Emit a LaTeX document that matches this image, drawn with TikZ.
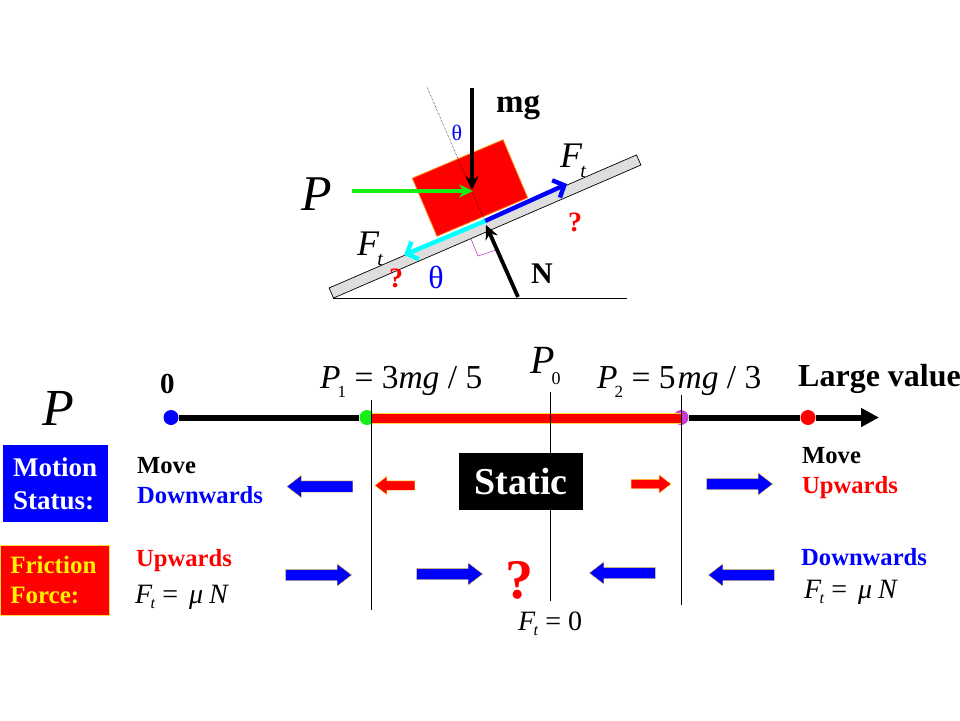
\documentclass[tikz,border=0pt]{standalone}
\usepackage{fontspec}
\setmainfont{Liberation Serif}
\usetikzlibrary{arrows.meta, shapes.arrows}

\definecolor{edgeyellow}{RGB}{255,220,60}
\definecolor{slopegray}{RGB}{222,222,222}
\definecolor{anglepink}{RGB}{200,60,210}
\definecolor{purecyan}{RGB}{0,255,255}
\definecolor{puregreen}{RGB}{20,240,20}
\definecolor{pureblue}{RGB}{0,0,255}
\definecolor{purered}{RGB}{255,0,0}
\newcommand{\fs}[1]{\fontsize{#1}{#1}\selectfont}
% subscript: size, kern, drop, text
\newcommand{\low}[4]{\kern#2pt\raisebox{-#3pt}{\fs{#1}#4}}
\newcommand{\Ftbig}{\textit{F}\low{20}{-2}{10}{\textit{t}}}
\newcommand{\Ftsmall}{\textit{F}\low{16}{-2}{5}{\textit{t}}}

\tikzset{
  txt/.style={inner sep=0pt, anchor=base west},
  mid/.style={inner sep=0pt, anchor=base},
  dotnode/.style={circle, inner sep=0pt, minimum size=15pt},
  force/.style={-{Stealth[length=14pt,width=13pt]}, line width=3.8pt},
  slide/.style={-{Straight Barb[length=9pt,width=19pt]}, line width=4.4pt},
  fblock/.style={single arrow, inner sep=0pt, text width=0pt, text height=11pt, text depth=0pt, minimum height=66pt,
    single arrow head extend=5.5pt, single arrow tip angle=75, fill=pureblue, draw=edgeyellow, line width=.4pt},
  sblock/.style={fblock, fill=purered, text height=9pt, minimum height=40pt, single arrow head extend=4.5pt},
  toleft/.style={shape border rotate=180},
  labelbox/.style={inner sep=0pt, align=left, text width=#1},
  guide/.style={line width=.8pt}
}

\begin{document}
\begin{tikzpicture}[x=1pt,y=-1pt]
  \useasboundingbox (0,0) rectangle (960,720);

  % block on the slope
  \draw (333,298) -- (627,298);
  \node[draw=black, fill=slopegray, line width=.7pt, rotate=23.4, minimum width=335pt, minimum height=11pt, inner sep=0pt] (slope) at (485,226.5) {};
  \node[draw=orange, fill=purered, line width=.8pt, rotate=23, minimum width=98.5pt, minimum height=63pt, inner sep=0pt] (block) at (470,188) {};

  \coordinate (normaltop) at (427,87);
  \coordinate (contact) at (485,221);
  \draw[densely dotted, line width=.5pt] (normaltop) -- (contact);
  \draw[anglepink, line width=.6pt] (471,239) -- (478,256) -- (496,250);

  \coordinate (mgstart) at (472,88);
  \coordinate (center) at (473,191);
  \coordinate (pstart) at (352,191);
  \coordinate (nstart) at (518,297);
  \coordinate (nend) at (486,225);
  \coordinate (upend) at (567,184);
  \coordinate (downend) at (404,255);

  \draw[force] (mgstart) -- (472,190);
  \draw[force, puregreen] (pstart) -- (center);
  \draw[force] (nstart) -- (nend);
  \draw[slide, pureblue] (contact) -- (upend);
  \draw[slide, purecyan] (contact) -- (downend);

  \node[txt] (mglabel) at (496,112) {\fs{33}\textbf{mg}};
  \node[txt] (nlabel) at (531,283) {\fs{30}\textbf{N}};
  \node[txt] (ptop) at (301,210) {\fs{50}\textit{P}};
  \node[txt] (ftup) at (560,167) {\fs{36}\Ftbig};
  \node[txt] (ftdown) at (357,255) {\fs{36}\Ftbig};
  \node[mid, pureblue] (thetasmall) at (457,140) {\fs{22}θ};
  \node[mid, pureblue] (thetabig) at (436,288) {\fs{32}θ};
  \node[mid, purered] (quup) at (575,231) {\fs{28}\textbf{?}};
  \node[mid, purered] (qudown) at (396,287) {\fs{28}\textbf{?}};

  % number line for P
  \node[txt] (pleft) at (42,425) {\fs{52}\textit{P}};
  \node[dotnode, fill=pureblue] (dotzero) at (171,417.5) {};
  \node[dotnode, fill=puregreen] (dotone) at (367,417.5) {};
  \node[dotnode, fill=anglepink] (dottwo) at (681,417.5) {};
  \node[dotnode, fill=purered] (dotlarge) at (808,417.5) {};
  \coordinate (axisend) at (879,417.5);
  \draw[line width=6pt] (dotzero) -- (dotone);
  \draw[line width=6pt] (dottwo) -- (dotlarge);
  \draw[line width=6pt, -{Triangle[length=18pt,width=18pt]}] (dotlarge) -- (axisend);
  \draw[draw=edgeyellow, fill=purered, line width=.5pt] (371,413) rectangle (681,423);

  \draw[guide] (371.5,400) -- (371.5,610);
  \draw[guide] (550,392) -- (550,601);
  \draw[guide] (681.5,395) -- (681.5,605);

  \node[txt] (zero) at (160,393) {\fs{29}\textbf{0}};
  \node[txt] (pone) at (320,388) {\fs{33.5}\textit{P}\low{17}{-3}{9}{1} = 3\textit{mg} / 5};
  \node[txt] (pzero) at (530,373) {\fs{40}\textit{P}\low{18}{-3}{11}{0}};
  \node[txt] (ptwo) at (597,388) {\fs{33.5}\textit{P}\low{17}{-3}{9}{2} = 5\kern2pt\textit{mg} / 3};
  \node[txt] (large) at (798,386) {\fs{32}\textbf{Large value}};

  % status rows
  \node[labelbox=85pt, fill=pureblue, text=white, minimum height=77pt, font=\fontsize{27}{33}\selectfont\bfseries, anchor=north west, inner xsep=10pt] (motionbox) at (3,445) {Motion\\Status:};
  \node[labelbox=89pt, fill=purered, draw=edgeyellow, line width=.6pt, text=yellow, minimum height=70pt, font=\fontsize{25}{30}\selectfont\bfseries, anchor=north west, inner xsep=10pt] (frictionbox) at (0,545) {Friction\\Force:};

  \node[txt] (moveleft) at (137,473) {\fs{24.6}\textbf{Move}};
  \node[txt, pureblue] (downleft) at (137,503) {\fs{24.6}\textbf{Downwards}};
  \node[txt] (moveright) at (802,463) {\fs{24.6}\textbf{Move}};
  \node[txt, purered] (upright) at (802,493) {\fs{24.6}\textbf{Upwards}};
  \node[txt, purered] (upfric) at (136,566) {\fs{24.6}\textbf{Upwards}};
  \node[txt, pureblue] (downfric) at (801,565) {\fs{24.6}\textbf{Downwards}};
  \node[txt] (muleft) at (135,603) {\fs{28}\Ftsmall\ = \kern4pt\textit{μ}\kern6pt\textit{N}};
  \node[txt] (muright) at (804,598) {\fs{28}\Ftsmall\ = \kern4pt\textit{μ}\kern6pt\textit{N}};
  \node[txt] (ftzero) at (518,630) {\fs{28}\Ftsmall\ = 0};

  \node[fill=black, text=white, minimum width=124pt, minimum height=57pt, inner sep=0pt, font=\fs{38}\bfseries] (static) at (521,481.5) {Static};
  \node[mid, purered] (qubig) at (519,598) {\fs{56}\textbf{?}};

  \node[fblock, toleft] (arrowa) at (323.5,486.5) {};
  \node[sblock, toleft] (arrowb) at (398,485.5) {};
  \node[sblock] (arrowc) at (648,484) {};
  \node[fblock] (arrowd) at (736,484) {};
  \node[fblock] (arrowe) at (315,575) {};
  \node[fblock] (arrowf) at (446,574) {};
  \node[fblock, toleft] (arrowg) at (626,573) {};
  \node[fblock, toleft] (arrowh) at (745,575) {};
\end{tikzpicture}
\end{document}
